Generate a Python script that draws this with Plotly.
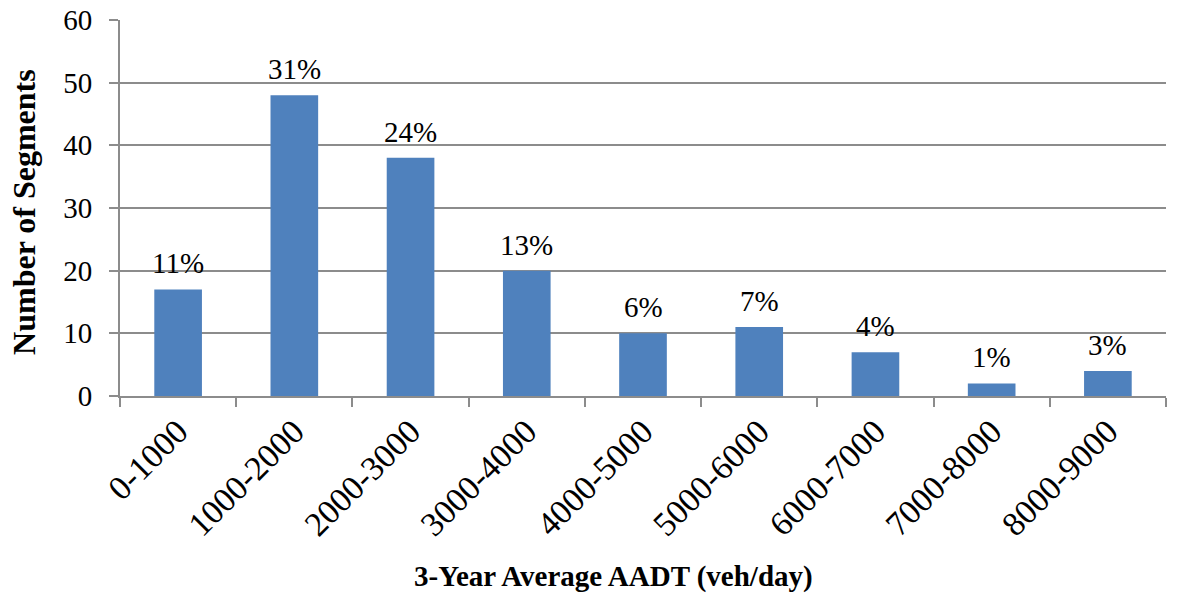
import plotly.graph_objects as go

categories = ["0-1000", "1000-2000", "2000-3000", "3000-4000", "4000-5000",
              "5000-6000", "6000-7000", "7000-8000", "8000-9000"]
segments = [17, 48, 38, 20, 10, 11, 7, 2, 4]
percent_labels = ["11%", "31%", "24%", "13%", "6%", "7%", "4%", "1%", "3%"]

font_family = "Liberation Serif"

fig = go.Figure()
fig.add_trace(go.Bar(
    x=categories, y=segments,
    marker=dict(color="#4F81BD", line=dict(width=0)),
    width=0.41, hoverinfo="x+y",
))

bar_labels = [
    dict(text=lab, x=cat, y=val, xref="x", yref="y",
         xanchor="center", yanchor="bottom", yshift=8, showarrow=False,
         font=dict(family=font_family, size=29, color="black"))
    for cat, val, lab in zip(categories, segments, percent_labels)
]

fig.update_layout(
    width=1185, height=596,
    margin=dict(l=120, r=19, t=20, b=200),
    plot_bgcolor="white", paper_bgcolor="white",
    showlegend=False,
    font=dict(family=font_family, size=28, color="black"),
    annotations=bar_labels + [
        dict(text="<b>3-Year Average AADT (veh/day)</b>",
             xref="paper", yref="paper", x=0.472, y=-0.481,
             xanchor="center", yanchor="middle", showarrow=False,
             font=dict(family=font_family, size=29, color="black")),
        dict(text="<b>Number of Segments</b>",
             xref="paper", yref="paper", x=-0.092, y=0.489,
             xanchor="center", yanchor="middle", showarrow=False,
             textangle=-90,
             font=dict(family=font_family, size=32, color="black")),
    ],
)
fig.update_xaxes(
    tickangle=-45, tickson="boundaries", ticks="outside", ticklen=9,
    tickcolor="#8c8c8c", tickwidth=2,
    showline=True, linecolor="#8c8c8c", linewidth=2,
    tickfont=dict(family=font_family, size=34),
    automargin=False, ticklabeloverflow="allow",
)
fig.update_yaxes(
    range=[0, 60], dtick=10, ticks="outside", ticklen=9,
    tickcolor="#8c8c8c", tickwidth=2,
    showline=True, linecolor="#8c8c8c", linewidth=2,
    showgrid=True, gridcolor="#8c8c8c", gridwidth=1.5,
    zeroline=False, automargin=False, ticklabeloverflow="allow",
    ticklabelstandoff=11,
    tickfont=dict(family=font_family, size=29),
)

fig.write_html("out.html",
               config={"displayModeBar": False},
               post_script="document.body.style.margin='0';")
